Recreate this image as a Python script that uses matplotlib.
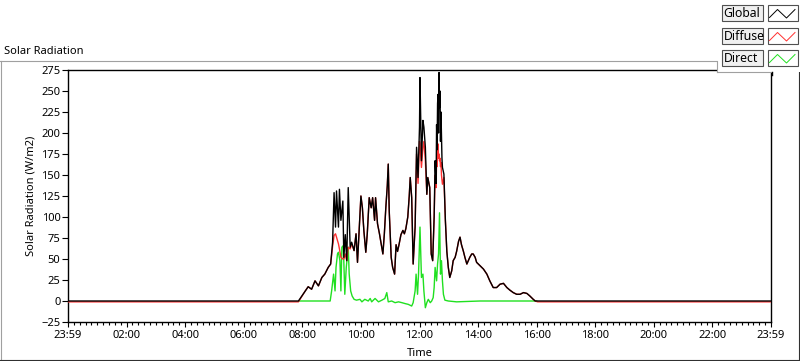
import matplotlib.pyplot as plt
from matplotlib.patches import Rectangle
from matplotlib.ticker import MultipleLocator, FixedLocator

plt.rcParams['font.family'] = ['Noto Sans', 'DejaVu Sans']
FS = 8

# Global / Diffuse share one time axis (HH:MM of the day)
times = [
    "00:00", "07:52", "08:06", "08:12", "08:19", "08:26", "08:33", "08:40", "08:46", "08:53", "08:58",
    "09:02", "09:05", "09:08", "09:10", "09:14", "09:16", "09:19", "09:23", "09:25", "09:28", "09:31",
    "09:34", "09:38", "09:41", "09:46", "09:50", "09:53", "09:56",
    "10:00", "10:03", "10:06", "10:10", "10:13", "10:17", "10:21", "10:24", "10:28", "10:30", "10:34",
    "10:38", "10:41", "10:45", "10:48", "10:51", "10:54", "10:56", "10:58",
    "11:02", "11:05", "11:09", "11:12", "11:15", "11:18", "11:22", "11:26", "11:29", "11:32", "11:36",
    "11:39", "11:41", "11:44", "11:47", "11:51", "11:54", "11:57",
    "12:00", "12:01", "12:04", "12:07", "12:09", "12:12", "12:15", "12:17", "12:21", "12:24", "12:27",
    "12:30", "12:32", "12:34", "12:35", "12:36", "12:37", "12:38", "12:39", "12:40", "12:41", "12:42",
    "12:43", "12:44", "12:45", "12:46", "12:47", "12:50", "12:53", "12:56", "12:59",
    "13:02", "13:06", "13:09", "13:13", "13:16", "13:20", "13:23", "13:26", "13:30", "13:33", "13:37",
    "13:40", "13:43", "13:47", "13:50", "13:54", "13:57",
    "14:04", "14:11", "14:18", "14:24", "14:31", "14:38", "14:45", "14:52", "14:59",
    "15:05", "15:12", "15:19", "15:26", "15:33", "15:40", "15:46", "15:53", "15:57",
    "16:02", "24:00",
]
global_rad = [
    0, 0, 12, 17, 14, 24, 18, 28, 32, 40, 44,
    70, 129, 88, 131, 88, 133, 96, 119, 52, 79, 48,
    135, 64, 70, 60, 80, 46, 80,
    125, 111, 84, 58, 80, 123, 111, 123, 96, 123, 92,
    80, 70, 56, 80, 111, 137, 163, 107,
    52, 40, 32, 67, 59, 67, 79, 84, 80, 86, 100,
    125, 147, 123, 44, 88, 183, 147,
    207, 266, 167, 215, 207, 183, 127, 147, 135, 56, 48,
    100, 167, 140, 210, 180, 235, 246, 200, 272, 230, 250,
    190, 225, 199, 170, 159, 151, 96, 59, 40,
    28, 36, 48, 52, 59, 71, 76, 67, 59, 52, 44,
    48, 52, 56, 56, 52, 46,
    42, 38, 32, 24, 16, 16, 20, 21, 16,
    13, 10, 8, 8, 10, 9, 6, 2, 0,
    0, 0,
]
diffuse_rad = [
    -1, -1, 12, 17, 14, 24, 18, 28, 32, 40, 44,
    65, 78, 80, 76, 68, 62, 52, 50, 50, 56, 48,
    64, 62, 68, 60, 80, 46, 80,
    125, 111, 84, 58, 80, 123, 111, 123, 96, 123, 92,
    80, 70, 56, 80, 111, 137, 163, 107,
    52, 40, 32, 67, 59, 67, 79, 84, 80, 86, 100,
    125, 147, 123, 44, 88, 175, 140,
    190, 187, 159, 183, 190, 167, 127, 147, 135, 56, 48,
    100, 150, 135, 167, 160, 180, 187, 170, 175, 167, 170,
    160, 165, 150, 145, 139, 147, 96, 59, 40,
    28, 36, 48, 52, 59, 71, 76, 67, 59, 52, 44,
    48, 52, 56, 56, 52, 46,
    42, 38, 32, 24, 16, 16, 20, 21, 16,
    13, 10, 8, 8, 10, 9, 6, 2, 0,
    -1, -1,
]

direct_times = [
    "07:54", "08:57", "09:00", "09:04", "09:07", "09:09", "09:12", "09:14", "09:17", "09:19", "09:21",
    "09:24", "09:27", "09:30", "09:32", "09:34", "09:36", "09:39", "09:42", "09:46", "09:51", "09:58",
    "10:02", "10:08", "10:15", "10:19", "10:22", "10:29", "10:36", "10:43", "10:49", "10:53", "10:56",
    "11:03", "11:10", "11:17", "11:24", "11:30", "11:37", "11:44", "11:47", "11:51", "11:53", "11:56",
    "11:58", "12:01", "12:04", "12:07", "12:09", "12:12", "12:15", "12:18", "12:22", "12:25", "12:28",
    "12:30", "12:32", "12:35", "12:37", "12:39", "12:41", "12:43", "12:45", "12:47", "12:49", "12:52",
    "12:59", "13:16", "14:04", "16:00",
]
direct_rad = [
    0, 0, 12, 32, 12, 40, 56, 58, 48, 12, 64,
    66, 8, 40, 52, 64, 32, 12, 6, 2, 1, 2,
    -1, 2, 0, 3, -1, 3, -1, 1, 3, 10, -1,
    0, -2, -1, -2, -3, -4, -6, -2, 12, 32, 8,
    32, 88, 28, 32, 12, -8, -2, 2, -2, 0, 4,
    16, 40, 24, 44, 56, 105, 32, 48, 24, 8, 1,
    0, -1, 0, 0,
]
assert len(times) == len(global_rad) == len(diffuse_rad)
assert len(direct_times) == len(direct_rad)

series_names = ["Global", "Diffuse", "Direct"]
series_colors = ["#000000", "#ff3030", "#20e020"]
x_tick_labels = ["23:59", "02:00", "04:00", "06:00", "08:00", "10:00", "12:00",
                 "14:00", "16:00", "18:00", "20:00", "22:00", "23:59"]


def to_hours(stamps):
    out = []
    for s in stamps:
        h, m = s.split(":")
        out.append(int(h) + int(m) / 60)
    return out


t_main = to_hours(times)
t_direct = to_hours(direct_times)

fig = plt.figure(figsize=(8, 3.61), dpi=100)
W, H = 800, 361
ax = fig.add_axes([68 / W, 1 - 322 / H, (771 - 68) / W, (322 - 70) / H])

lw = 1.0
ax.plot(t_direct, direct_rad, color=series_colors[2], lw=lw, zorder=2)
ax.plot(t_main, diffuse_rad, color=series_colors[1], lw=lw, zorder=3)
ax.plot(t_main, global_rad, color=series_colors[0], lw=lw, zorder=4)

ax.set_xlim(0, 24)
ax.set_ylim(-25, 275)
ax.yaxis.set_major_locator(MultipleLocator(25))
ax.xaxis.set_major_locator(FixedLocator(list(range(0, 25, 2))))
ax.xaxis.set_minor_locator(MultipleLocator(0.2))
ax.set_xticklabels(x_tick_labels)

for sp in ax.spines.values():
    sp.set_linewidth(1.0)
    sp.set_color("black")
ax.tick_params(axis="y", which="major", length=4, width=0.8, pad=1.5, labelsize=FS)
ax.tick_params(axis="x", which="major", length=3.5, width=0.8, pad=2, labelsize=FS)
ax.tick_params(axis="x", which="minor", length=2.5, width=0.8)

ax.set_xlabel("Time", fontsize=FS)
ax.set_ylabel("Solar Radiation (W/m2)", fontsize=FS)
ax.xaxis.label.set_va("center")
ax.xaxis.set_label_coords(0.5, (322 - 353) / 252)
ax.yaxis.label.set_va("center")
ax.yaxis.set_label_coords((31 - 68) / 703, 0.5)

# overlay in pixel coords for frame, title and legend
ov = fig.add_axes([0, 0, 1, 1], zorder=5)
ov.set_xlim(0, W)
ov.set_ylim(H, 0)
ov.axis("off")
ov.patch.set_alpha(0)

ov.plot([0.5, 0.5], [61, 360], color="#a0a0a0", lw=0.8)
ov.plot([0, 800], [61, 61], color="#a0a0a0", lw=0.8)
ov.plot([0, 799], [360, 360], color="#303030", lw=0.8)
ov.plot([799, 799], [61, 360], color="#303030", lw=0.8)
ov.text(4, 51, "Solar Radiation", fontsize=FS, va="center", ha="left")

# legend panel
ov.add_patch(Rectangle((717, 0), 83, 72, facecolor="white", edgecolor="none", zorder=3))
ov.plot([717, 717], [61, 72], color="#a0a0a0", lw=0.8, zorder=4)
ov.plot([717, 772], [72, 72], color="#a0a0a0", lw=0.8, zorder=4)
ov.plot([772, 772], [72, 75], color="black", lw=1.0, zorder=4)
row_top = [4, 27, 49]
for name, col, y0 in zip(series_names, series_colors, row_top):
    ov.add_patch(Rectangle((721.5, y0 + 0.5), 41, 16, facecolor="#f0f0f0",
                           edgecolor="#505050", lw=0.8, zorder=5))
    ov.text(723.5, y0 + 9.5, name, fontsize=8.8, va="center", ha="left", zorder=6)
    ov.add_patch(Rectangle((767.5, y0 + 0.5), 30, 16, facecolor="white",
                           edgecolor="#505050", lw=0.8, zorder=5))
    ov.plot([769.5, 777.5, 786.5, 795], [y0 + 13.5, y0 + 5.5, y0 + 14, y0 + 5.5],
            color=col, lw=0.7, zorder=6)

fig.savefig("out.png", dpi=100)
